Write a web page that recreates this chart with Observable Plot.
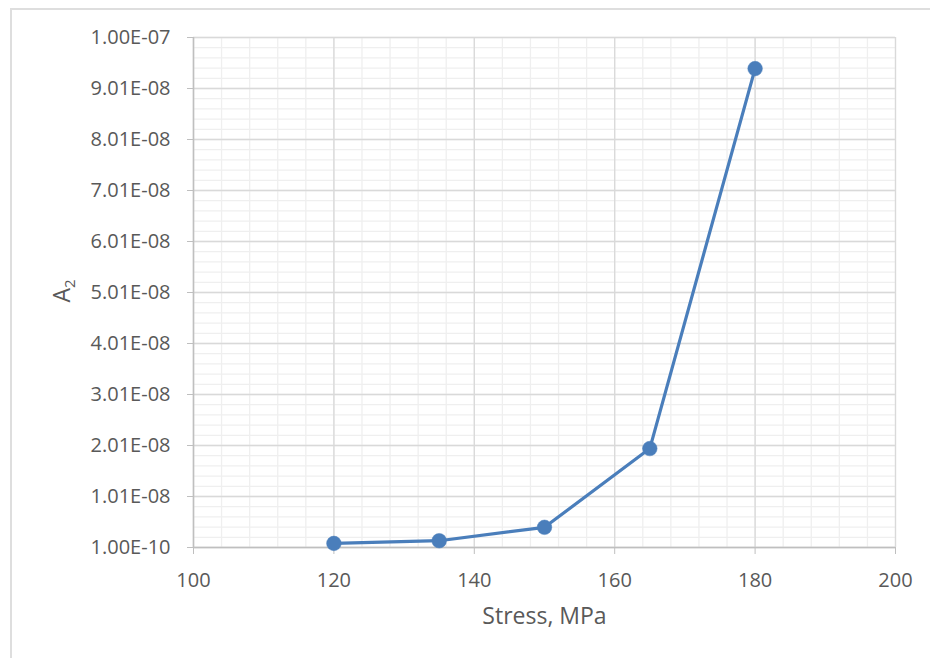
<!DOCTYPE html>
<html>
<head>
<meta charset="utf-8">
<script src="https://cdn.jsdelivr.net/npm/d3@7"></script>
<script src="https://cdn.jsdelivr.net/npm/@observablehq/plot@0.6"></script>
<style>
  html, body { margin: 0; padding: 0; background: #fff; }
  #wrap { position: relative; width: 930px; height: 658px; overflow: hidden; }
  #edge { position: absolute; left: 10px; top: 8px; width: 940px; height: 670px;
          border-top: 2px solid #dedede; border-left: 2px solid #dedede; box-sizing: border-box; }
  #chart { position: absolute; left: 0; top: 0; }
</style>
</head>
<body>
<div id="wrap"><div id="edge"></div><div id="chart"></div></div>
<script>
// Measured A2 coefficient against applied stress
const stress = [120, 135, 150, 165, 180];
const a2 = [9.0e-10, 1.43e-9, 4.06e-9, 1.95e-8, 9.40e-8];

// Axis ticks and their labels
const xTicks = [100, 120, 140, 160, 180, 200];
const yTicks = [1.0e-10, 1.01e-8, 2.01e-8, 3.01e-8, 4.01e-8, 5.01e-8, 6.01e-8, 7.01e-8, 8.01e-8, 9.01e-8, 1.001e-7];
const yTickLabels = ["1.00E-10", "1.01E-08", "2.01E-08", "3.01E-08", "4.01E-08", "5.01E-08",
                     "6.01E-08", "7.01E-08", "8.01E-08", "9.01E-08", "1.00E-07"];
const xTitle = "Stress, MPa";

const points = stress.map((s, i) => ({stress: s, a2: a2[i]}));

// Minor gridlines: five subdivisions per major interval
const xMinor = d3.range(100, 200.001, 4);
const yMinor = d3.range(0, 51).map(k => 1.0e-10 + k * 2e-9);

const labelOf = new Map(yTicks.map((t, i) => [t, yTickLabels[i]]));

const chart = Plot.plot({
  width: 930,
  height: 658,
  marginLeft: 193,
  marginRight: 35,
  marginTop: 37,
  marginBottom: 111,
  style: {fontFamily: "'Open Sans', sans-serif", fontSize: "20px", color: "#595959", background: "transparent"},
  x: {domain: [100, 200]},
  y: {domain: [1.0e-10, 1.001e-7]},
  marks: [
    Plot.ruleX(xMinor, {stroke: "#efefef", strokeWidth: 1.3}),
    Plot.ruleY(yMinor, {stroke: "#efefef", strokeWidth: 1.3}),
    Plot.ruleX(xTicks, {stroke: "#d9d9d9", strokeWidth: 1.3}),
    Plot.ruleY(yTicks, {stroke: "#d9d9d9", strokeWidth: 1.3}),
    Plot.axisX(xTicks, {tickSize: 7, tickPadding: 18, stroke: "#bfbfbf", fill: "#595959", label: null}),
    Plot.axisY(yTicks, {tickSize: 6, tickPadding: 17, stroke: "#bfbfbf", fill: "#595959", label: null,
                        tickFormat: d => labelOf.get(d)}),
    Plot.ruleX([100], {stroke: "#bfbfbf", strokeWidth: 1.5}),
    Plot.ruleY([1.0e-10], {stroke: "#bfbfbf", strokeWidth: 1.5}),
    Plot.line(points, {x: "stress", y: "a2", stroke: "#4a7ebb", strokeWidth: 3.2}),
    Plot.dot(points, {x: "stress", y: "a2", r: 7.3, fill: "#4a7ebb", stroke: "#4a7ebb", strokeWidth: 0.5}),
    Plot.text([xTitle], {frameAnchor: "bottom", lineAnchor: "top", dy: 60, fontSize: 23, fill: "#595959"})
  ]
});

// Vertical axis title with a subscript
const svg = d3.select(chart);
const yTitle = svg.append("text")
  .attr("transform", "translate(70,291) rotate(-90)")
  .attr("text-anchor", "middle")
  .attr("fill", "#595959")
  .style("font-family", "'Open Sans', sans-serif")
  .style("font-size", "23px");
yTitle.append("tspan").text("A");
yTitle.append("tspan").attr("dy", 5).style("font-size", "15px").text("2");

document.getElementById("chart").append(chart);
</script>
</body>
</html>
